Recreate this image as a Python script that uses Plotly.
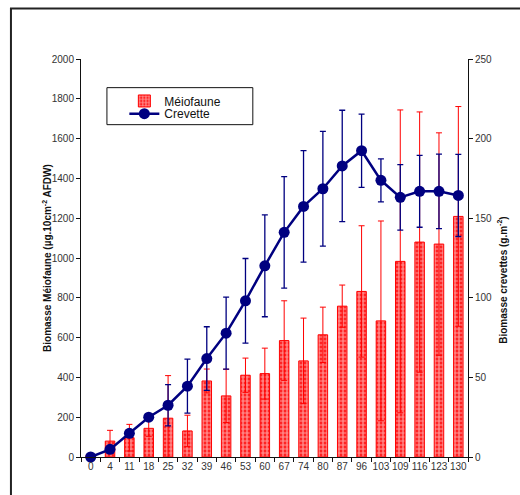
import plotly.graph_objects as go

categories = ["0", "4", "11", "18", "25", "32", "39", "46", "53", "60",
              "67", "74", "80", "87", "96", "103", "109", "116", "123", "130"]
meiofaune = [8, 80, 97, 144, 195, 131, 382, 307, 411, 419,
             585, 483, 614, 758, 832, 684, 983, 1080, 1070, 1209]
meiofaune_err = [8, 54, 67, 40, 214, 79, 60, 134, 86, 128,
                 200, 215, 139, 106, 330, 502, 761, 654, 559, 552]
crevette = [0, 4.8, 14.9, 25.0, 32.5, 44.5, 61.8, 77.8, 98.1, 120.1,
            141.1, 157.4, 168.5, 182.8, 192.4, 173.8, 163.1, 166.9, 166.9, 164.3]
crevette_err = [0, 2, 2, 2, 13, 17, 20, 22.6, 26.6, 32,
                35, 35, 36, 35, 23, 13.5, 20.6, 22.6, 23.4, 25.8]

FONT = "Liberation Sans, Arial, sans-serif"
RED = "#ff0000"
NAVY = "#000080"

fig = go.Figure()
fig.add_trace(go.Bar(
    x=categories, y=meiofaune, name="Méiofaune",
    marker=dict(color=RED, line=dict(color=RED, width=1),
                pattern=dict(shape=".", fgcolor="white", bgcolor=RED, size=4, solidity=0.7)),
    error_y=dict(type="data", array=meiofaune_err, color=RED, thickness=1, width=3),
    yaxis="y", legend="legend",
))
fig.add_trace(go.Scatter(
    x=categories, y=crevette, name="Crevette", mode="lines+markers",
    line=dict(color=NAVY, width=2.5),
    marker=dict(color=NAVY, size=11, symbol="circle"),
    error_y=dict(type="data", array=crevette_err, color=NAVY, thickness=1.3, width=3),
    yaxis="y2", cliponaxis=False, legend="legend2",
))

tickfont = dict(family=FONT, size=10, color="#333333")
legfont = dict(family=FONT, size=12, color="#111111")
fig.update_layout(
    width=520, height=495,
    margin=dict(l=81, r=52, t=59, b=38),
    paper_bgcolor="white", plot_bgcolor="white",
    bargap=0.51,
    showlegend=True,
    legend=dict(x=0.112, y=0.931, xanchor="left", yanchor="top",
                bgcolor="rgba(0,0,0,0)", borderwidth=0, font=legfont, itemwidth=30),
    legend2=dict(x=0.112, y=0.899, xanchor="left", yanchor="top",
                 bgcolor="rgba(0,0,0,0)", borderwidth=0, font=legfont, itemwidth=30),
    xaxis=dict(type="category", showgrid=False, zeroline=False,
               showline=True, linecolor="#111111", linewidth=1,
               ticks="outside", ticklen=4, tickcolor="#111111", tickson="boundaries",
               tickfont=tickfont, tickangle=0, range=[-0.5, 19.5]),
    yaxis=dict(range=[0, 2000], dtick=200, showgrid=False, zeroline=False,
               showline=True, linecolor="#111111", linewidth=1,
               ticks="outside", ticklen=4, tickcolor="#111111",
               tickfont=tickfont),
    yaxis2=dict(range=[0, 250], dtick=50, overlaying="y", side="right",
                showgrid=False, zeroline=False,
                showline=True, linecolor="#111111", linewidth=1,
                ticks="outside", ticklen=4, tickcolor="#111111",
                tickfont=tickfont),
    # inside halves of crossing tick marks
    xaxis2=dict(overlaying="x", range=[-0.5, 19.5], tickvals=[i + 0.5 for i in range(19)],
                showticklabels=False, ticks="inside", ticklen=4, tickcolor="#111111",
                showgrid=False, zeroline=False, showline=False, side="bottom", anchor="y"),
    yaxis3=dict(overlaying="y", range=[0, 2000], dtick=200, showticklabels=False,
                ticks="inside", ticklen=4, tickcolor="#111111",
                showgrid=False, zeroline=False, showline=False, side="left", anchor="x"),
    yaxis4=dict(overlaying="y", range=[0, 250], dtick=50, showticklabels=False,
                ticks="inside", ticklen=4, tickcolor="#111111",
                showgrid=False, zeroline=False, showline=False, side="right", anchor="x"),
)

fig.add_annotation(text="<b>Biomasse Méiofaune (µg.10cm<sup>-2</sup> AFDW)</b>",
                   xref="paper", yref="paper", x=-0.088, y=0.5, textangle=-90,
                   showarrow=False, font=dict(family=FONT, size=10, color="#111111"),
                   xanchor="center", yanchor="middle")
fig.add_annotation(text="<b>Biomasse crevettes (g.m<sup>-2</sup>)</b>",
                   xref="paper", yref="paper", x=1.088, y=0.443, textangle=-90,
                   showarrow=False, font=dict(family=FONT, size=10, color="#111111"),
                   xanchor="center", yanchor="middle")

# legend frame
fig.add_shape(type="rect", xref="paper", yref="paper",
              x0=0.067, x1=0.444, y0=0.835, y1=0.928,
              line=dict(color="#111111", width=1), fillcolor="rgba(0,0,0,0)")
# outer frame of the picture
fig.add_shape(type="rect", xref="paper", yref="paper",
              x0=-0.181, x1=1.3, y0=-0.3, y1=1.127,
              line=dict(color="#222222", width=2), fillcolor="rgba(0,0,0,0)")

fig.write_html("out.html", config={"displayModeBar": False},
               post_script="document.body.style.margin='0';")
